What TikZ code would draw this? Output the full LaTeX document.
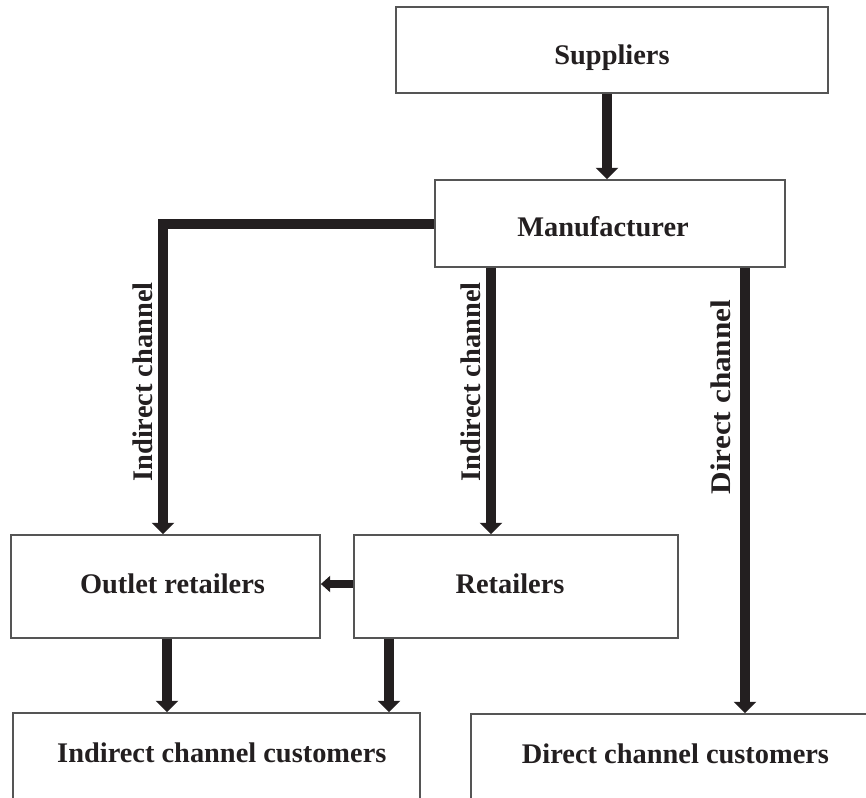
\documentclass[tikz,border=0pt]{standalone}
\usepackage{fontspec}
\setmainfont{Liberation Serif}
\usetikzlibrary{arrows.meta}
\definecolor{ink}{HTML}{231F20}
\definecolor{edge}{HTML}{555555}
\begin{document}
\begin{tikzpicture}[x=0.75pt,y=-0.75pt,
  box/.style={draw=edge,line width=1.3pt,fill=white,inner sep=0pt,
    font=\fontsize{21.3}{24}\selectfont\bfseries,text=ink},
  lbl/.style={font=\fontsize{21.3}{24}\selectfont\bfseries,text=ink,rotate=90,inner sep=0pt},
  flow/.style={draw=ink,line width=7pt,line join=miter,
    -{Triangle[length=8.5pt,width=16.5pt]}},
  smallflow/.style={draw=ink,line width=6pt,
    -{Triangle[length=7pt,width=12pt]}}]
\clip (0,0) rectangle (866,797);
\useasboundingbox (0,0) rectangle (866,797);
\fill[white] (0,0) rectangle (866,797);

\node[box,minimum width=324pt,minimum height=64.5pt,text height=21.75pt,text depth=0pt] (sup) at (612,50) {Suppliers};
\node[box,minimum width=262.5pt,minimum height=65.25pt,text height=18.75pt,text depth=0pt] (man) at (610,223.5) {Manufacturer\hspace*{10.5pt}};
\node[box,minimum width=231.75pt,minimum height=77.25pt,text height=9.75pt,text depth=0pt] (out) at (165.5,586.5) {\hspace*{10.5pt}Outlet retailers};
\node[box,minimum width=243pt,minimum height=77.25pt,text height=9.75pt,text depth=0pt] (ret) at (516,586.5) {Retailers\hspace*{9pt}};
\node[box,minimum width=305.25pt,minimum height=75pt,text depth=15pt] (icu) at (216.5,763) {\hspace*{8pt}Indirect channel customers};
\node[box,minimum width=306.75pt,minimum height=75pt,text depth=15pt] (dcu) at (675.5,764) {Direct channel customers};

\coordinate (a1) at (607,0);
\coordinate (a2) at (163,224);
\coordinate (a3) at (491,0);
\coordinate (a4) at (745,0);
\coordinate (a5) at (167,0);
\coordinate (a6) at (389,0);
\coordinate (a7) at (0,584);

\draw[flow] (sup.south -| a1) -- (man.north -| a1);
\draw[flow] (man.west |- a2) -- (a2) -- (out.north -| a2);
\draw[flow] (man.south -| a3) -- (ret.north -| a3);
\draw[flow] (man.south -| a4) -- (dcu.north -| a4);
\draw[smallflow] (ret.west |- a7) -- (out.east |- a7);
\draw[flow] (out.south -| a5) -- (icu.north -| a5);
\draw[flow] (ret.south -| a6) -- (icu.north -| a6);

\node[lbl] (l1) at (143,382) {Indirect channel};
\node[lbl] (l2) at (471,382) {Indirect channel};
\node[lbl] (l3) at (721,397) {\scalebox{1.1}[1]{Direct channel}};
\end{tikzpicture}
\end{document}
